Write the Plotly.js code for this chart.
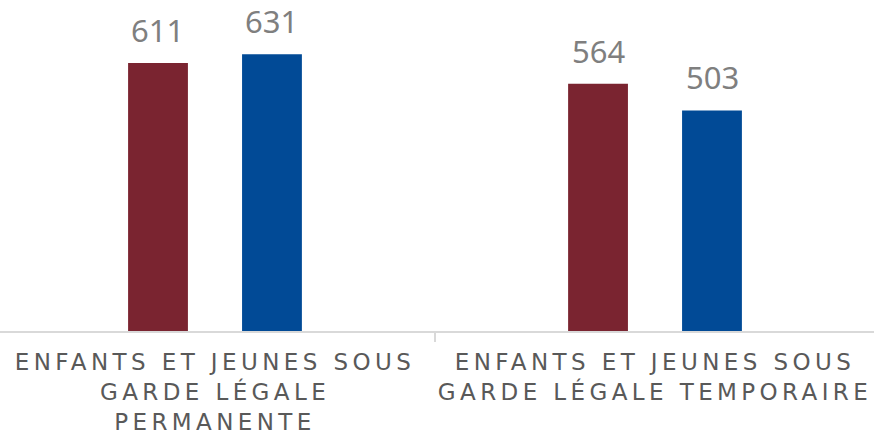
<!DOCTYPE html>
<html>
<head>
<meta charset="utf-8">
<script src="https://cdn.plot.ly/plotly-3.0.1.min.js"></script>
<style>
  html, body { margin: 0; padding: 0; background: #fff; }
  #chart { width: 877px; height: 434px; }
  .xtick text { letter-spacing: 4.4px; }
</style>
</head>
<body>
<div id="chart"></div>
<script>
const categories = [
  "ENFANTS ET JEUNES SOUS<br>GARDE LÉGALE<br>PERMANENTE",
  "ENFANTS ET JEUNES SOUS<br>GARDE LÉGALE TEMPORAIRE"
];
const seriesA = [611, 564];
const seriesB = [631, 503];

const colorA = "#7A2430";
const colorB = "#014A96";

const traces = [
  { type: "bar", x: categories, y: seriesA, marker: { color: colorA }, hoverinfo: "none" },
  { type: "bar", x: categories, y: seriesB, marker: { color: colorB }, hoverinfo: "none" }
];

const annotations = [];
[seriesA, seriesB].forEach((s, si) => {
  s.forEach((v, i) => {
    annotations.push({
      x: categories[i], y: v, xref: "x", yref: "y",
      text: String(v), showarrow: false,
      xanchor: "center", yanchor: "bottom",
      xshift: si === 0 ? -57 : 57, yshift: 10,
      font: { family: "Noto Sans, sans-serif", size: 31, color: "#7F7F7F" }
    });
  });
});

const layout = {
  width: 877, height: 434,
  margin: { l: 0, r: 3, t: 0, b: 103 },
  paper_bgcolor: "#ffffff", plot_bgcolor: "#ffffff",
  showlegend: false,
  barmode: "group",
  bargap: 0.482,
  bargroupgap: 0.475,
  xaxis: {
    type: "category",
    range: [-0.4886, 1.4977],
    showline: true, linecolor: "#D9D9D9", linewidth: 1.5,
    ticks: "outside", tickson: "boundaries", ticklen: 9, tickcolor: "#D9D9D9", tickwidth: 1.5,
    ticklabelstandoff: 10,
    showgrid: false, zeroline: false,
    tickfont: { family: "DejaVu Sans, sans-serif", size: 23, color: "#595959" },
    fixedrange: true
  },
  yaxis: {
    range: [0, 754.7],
    visible: false, showgrid: false, zeroline: false, fixedrange: true
  },
  annotations: annotations
};

Plotly.newPlot("chart", traces, layout, { staticPlot: true, displayModeBar: false });
</script>
</body>
</html>
